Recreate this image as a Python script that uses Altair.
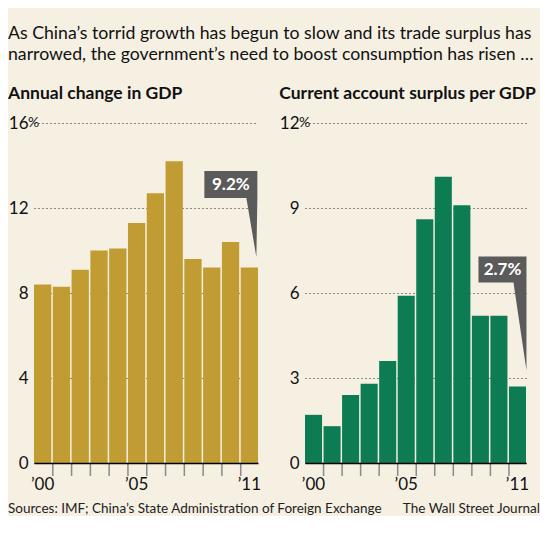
import altair as alt
import pandas as pd

years = list(range(2000, 2012))
gdp_growth = [8.4, 8.3, 9.1, 10.0, 10.1, 11.3, 12.7, 14.2, 9.6, 9.2, 10.4, 9.2]
ca_surplus = [1.7, 1.3, 2.4, 2.8, 3.6, 5.9, 8.6, 10.1, 9.1, 5.2, 5.2, 2.7]
gdp_ticks = [0, 4, 8, 12, 16]
ca_ticks = [0, 3, 6, 9, 12]
label_years = [2000, 2005, 2011]
tick_years = years[1:]
title_lines = [
    "As China\u2019s torrid growth has begun to slow and its trade surplus has",
    "narrowed, the government\u2019s need to boost consumption has risen \u2026",
]
panel_titles = ["Annual change in GDP", "Current account surplus per GDP"]
callout_texts = ["9.2%", "2.7%"]
source_text = "Sources: IMF; China\u2019s State Administration of Foreign Exchange"
credit_text = "The Wall Street Journal"

BG = "#f6f0e3"
GOLD = "#c19c33"
GREEN = "#0e7c52"
CALLOUT = "#5b5b5b"
FONT = "Lato"
H = 340


def panel(values, ticks, color, title, width, ctext, cpath, ldx, ldy, foot):
    df = pd.DataFrame({"year": years, "value": values})
    xscale = alt.Scale(paddingInner=0.08, paddingOuter=0)
    x = alt.X(
        "year:O",
        scale=xscale,
        axis=alt.Axis(
            title=None, values=label_years, labelAngle=0, ticks=False,
            domain=True, domainColor="#000", domainWidth=1.5, grid=False,
            labelExpr="'\u2019' + substring(datum.label, 2, 4)",
            labelFont=FONT, labelFontSize=17, labelColor="#111",
            labelPadding=13, zindex=1, labelBaseline="top",
        ),
    )
    y = alt.Y(
        "value:Q",
        scale=alt.Scale(domain=[0, ticks[-1]], nice=False, zero=True),
        axis=alt.Axis(
            title=None, values=ticks, grid=True, gridDash=[1, 3],
            gridColor="#222", gridWidth=1, ticks=False, domain=False,
            labelPadding=6, labelFont=FONT, labelFontSize=17,
            labelColor="#111",
        ),
    )
    bars = alt.Chart(df).mark_bar(color=color).encode(x=x, y=y)

    tdf = pd.DataFrame({"year": tick_years})
    tick_rules = alt.Chart(tdf).mark_rule(color="#8a8a8a", strokeWidth=1.5).encode(
        x=alt.X("year:O", bandPosition=0),
        y=alt.value(H + 1),
        y2=alt.value(H + 13),
    )

    pct = alt.Chart(pd.DataFrame({"t": ["%"]})).mark_text(
        align="left", baseline="middle", font=FONT, fontSize=14, color="#111"
    ).encode(text="t:N", x=alt.value(-6), y=alt.datum(ticks[-1]))

    cdf = pd.DataFrame({"year": [years[-1]], "value": [values[-1]], "t": [ctext]})
    box = alt.Chart(cdf).mark_point(
        shape=cpath, size=4, filled=True, color=CALLOUT, opacity=1, strokeWidth=0
    ).encode(x=alt.X("year:O"), y=alt.Y("value:Q"))
    lbl = alt.Chart(cdf).mark_text(
        font=FONT, fontWeight="bold", fontSize=17, color="white",
        align="center", baseline="middle", dx=ldx, dy=ldy,
    ).encode(x=alt.X("year:O"), y=alt.Y("value:Q"), text="t:N")

    ftext, fx, falign = foot
    ftx = alt.Chart(pd.DataFrame({"t": [ftext]})).mark_text(
        align=falign, baseline="alphabetic", font=FONT, fontSize=13.5, color="#222"
    ).encode(text="t:N", x=alt.value(fx), y=alt.value(H + 50))

    return alt.layer(bars, tick_rules, pct, box, lbl, ftx).properties(
        width=width, height=H,
        title=alt.TitleParams(
            title, anchor="start", font=FONT, fontWeight="bold",
            fontSize=17.5, color="#111", offset=12,
        ),
    )


left = panel(
    gdp_growth, gdp_ticks, GOLD, panel_titles[0], 224, callout_texts[0],
    "M-45,-96.5 L8,-96.5 L8,-69.5 L7,-10.5 L-3,-69.5 L-45,-69.5 Z", -18.5, -83,
    (source_text, -26, "left"),
)
right = panel(
    ca_surplus, ca_ticks, GREEN, panel_titles[1], 221, callout_texts[1],
    "M-39,-130 L9,-130 L9,-16 L-4,-104 L-39,-104 Z", -15, -117,
    (credit_text, 235, "right"),
)

chart = alt.hconcat(left, right, spacing=47, bounds="flush").properties(
    title=alt.TitleParams(
        title_lines, anchor="start", font=FONT, fontSize=17.7,
        lineHeight=21, color="#111", fontWeight="normal", offset=21,
    ),
    padding={"left": 0, "top": 16, "right": 0, "bottom": 0},
    background=BG,
).configure_view(stroke=None)

chart.save("out.html", embed_options={"renderer": "svg", "actions": False})
